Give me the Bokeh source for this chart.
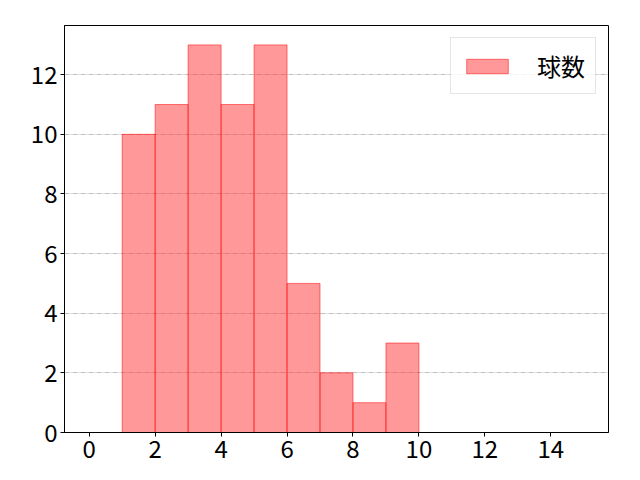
from bokeh.plotting import figure
from bokeh.models import Range1d, Legend, LegendItem, FixedTicker
from bokeh.embed import file_html
from bokeh.resources import INLINE

bin_left = [1, 2, 3, 4, 5, 6, 7, 8, 9]
bin_right = [2, 3, 4, 5, 6, 7, 8, 9, 10]
counts = [10, 11, 13, 11, 13, 5, 2, 1, 3]
x_ticks = [0, 2, 4, 6, 8, 10, 12, 14]
y_ticks = [0, 2, 4, 6, 8, 10, 12]
series_name = "球数"

FONT = "Noto Sans CJK JP"

p = figure(width=640, height=480, output_backend="svg", toolbar_location=None,
           x_range=Range1d(-0.75, 15.75), y_range=Range1d(0, 13.65),
           min_border_left=64, min_border_right=32, min_border_top=25, min_border_bottom=48)

r = p.quad(left=bin_left, right=bin_right, bottom=0, top=counts,
           fill_color="#ff3333", fill_alpha=0.5, line_color="#ff0000", line_alpha=0.5, line_width=1)

p.xgrid.visible = False
p.ygrid.ticker = FixedTicker(ticks=y_ticks)
p.ygrid.grid_line_color = "#b0b0b0"
p.ygrid.grid_line_dash = "5 1 1 1"
p.ygrid.grid_line_width = 0.8

p.xaxis.ticker = FixedTicker(ticks=x_ticks)
p.yaxis.ticker = FixedTicker(ticks=y_ticks)
for ax in (p.xaxis, p.yaxis):
    ax.major_label_text_font = FONT
    ax.major_label_text_font_size = "24px"
    ax.major_label_text_color = "black"
    ax.minor_tick_line_color = None
    ax.major_tick_out = 4
    ax.major_tick_in = 0
    ax.major_label_standoff = 3
    ax.axis_line_color = "black"
    ax.major_tick_line_color = "black"

p.outline_line_color = "black"
p.outline_line_alpha = 1
p.outline_line_width = 1

legend = Legend(items=[LegendItem(label=series_name, renderers=[r])], location="top_right")
legend.label_text_font = FONT
legend.label_text_font_size = "24px"
legend.label_text_color = "black"
legend.glyph_width = 52
legend.glyph_height = 18
legend.label_height = 18
legend.label_standoff = 24
legend.padding = 10
legend.spacing = 0
legend.margin = 12
legend.border_line_color = "#cccccc"
legend.border_line_width = 1
legend.background_fill_alpha = 0.8
p.add_layout(legend, "center")

open("out.html", "w").write(file_html(p, INLINE))
